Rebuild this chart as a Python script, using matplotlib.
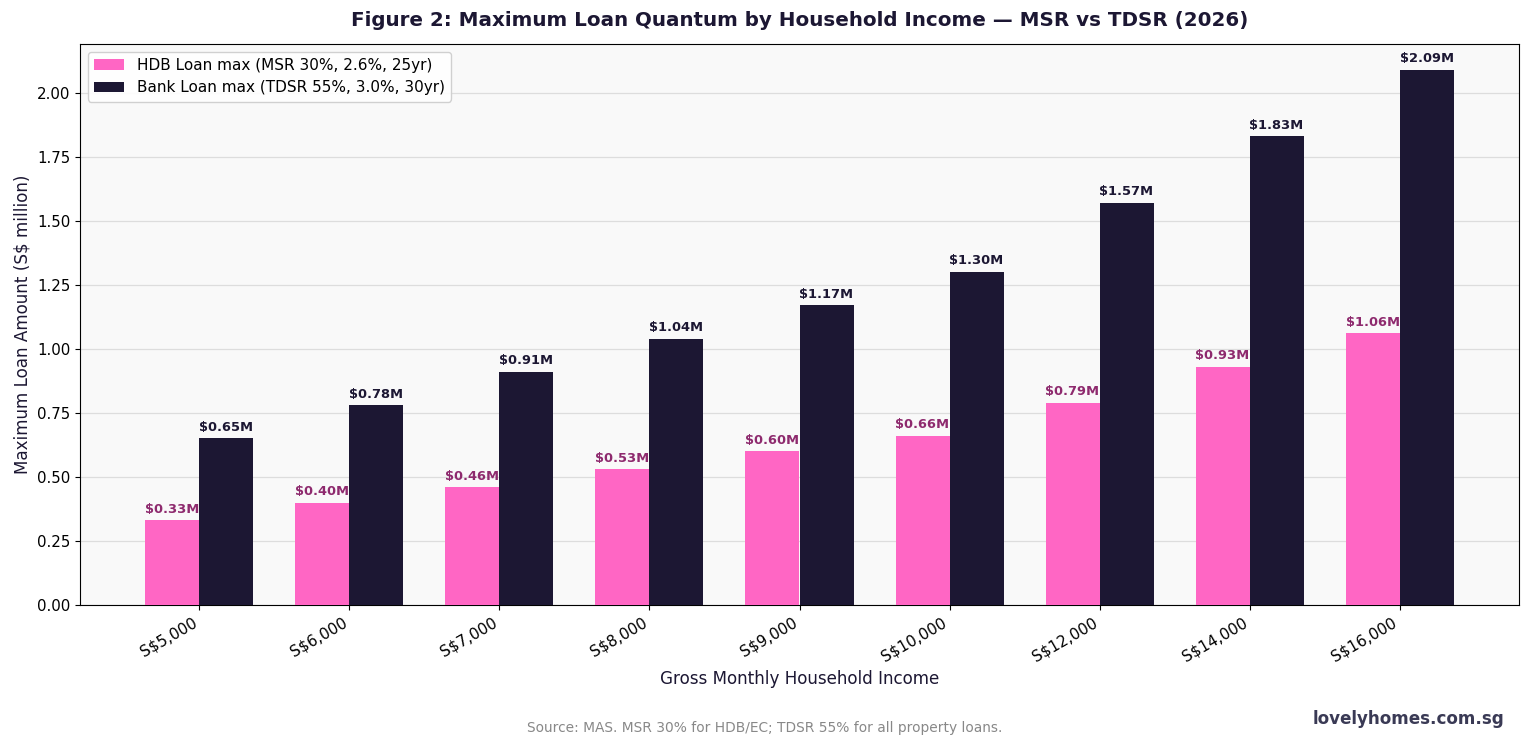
import matplotlib
matplotlib.use("Agg")
import matplotlib.pyplot as plt
import numpy as np

plt.rcParams["font.family"] = ["DejaVu Sans"]

incomes = ["S$5,000", "S$6,000", "S$7,000", "S$8,000", "S$9,000",
           "S$10,000", "S$12,000", "S$14,000", "S$16,000"]
hdb_loan = [0.33, 0.40, 0.46, 0.53, 0.60, 0.66, 0.79, 0.93, 1.06]
bank_loan = [0.65, 0.78, 0.91, 1.04, 1.17, 1.30, 1.57, 1.83, 2.09]

PINK = "#FF66C4"
DARK = "#1C1733"
PINK_TXT = "#8E2A6E"

fig = plt.figure(figsize=(15.3, 7.47), dpi=100)
ax = fig.add_axes([80/1530, 1 - 605/747, (1519-80)/1530, (605-44)/747])
ax.set_facecolor("#F9F9F9")

x = np.arange(len(incomes))
w = 0.36
b1 = ax.bar(x - w/2, hdb_loan, w, color=PINK, label="HDB Loan max (MSR 30%, 2.6%, 25yr)", zorder=3)
b2 = ax.bar(x + w/2, bank_loan, w, color=DARK, label="Bank Loan max (TDSR 55%, 3.0%, 30yr)", zorder=3)

for rect, v in zip(b1, hdb_loan):
    ax.annotate(f"${v:.2f}M", (rect.get_x() + rect.get_width()/2, v),
                xytext=(0, 3.3), textcoords="offset points", ha="center", va="bottom",
                fontsize=9.35, fontweight="bold", color=PINK_TXT, zorder=4)
for rect, v in zip(b2, bank_loan):
    ax.annotate(f"${v:.2f}M", (rect.get_x() + rect.get_width()/2, v),
                xytext=(0, 3.3), textcoords="offset points", ha="center", va="bottom",
                fontsize=9.35, fontweight="bold", color=DARK, zorder=4)

ax.set_xticks(x)
ax.set_xticklabels(incomes, rotation=30, ha="right", fontsize=11)
ax.tick_params(axis="y", labelsize=10.8)
ax.set_ylim(0, 2.19)
ax.yaxis.grid(True, color="#DDDDDD", linewidth=0.9, zorder=0)
ax.set_axisbelow(True)
ax.set_xlabel("Gross Monthly Household Income", fontsize=12.1, color=DARK)
ax.set_ylabel("Maximum Loan Amount (S$ million)", fontsize=12.1, color=DARK)
ax.legend(loc="upper left", fontsize=11, framealpha=0.9)

ax.set_title("Figure 2: Maximum Loan Quantum by Household Income \u2014 MSR vs TDSR (2026)",
             fontsize=14.3, fontweight="bold", color=DARK, pad=13)
fig.text(0.5, 1 - 728/747,
         "Source: MAS. MSR 30% for HDB/EC; TDSR 55% for all property loans.",
         ha="center", va="center", fontsize=9.9, color="#888888")
fig.text(1504/1530, 1 - 719/747, "lovelyhomes.com.sg", ha="right", va="center",
         fontsize=12.1, fontweight="bold", color="#3A3A55")

fig.savefig("out.png", dpi=100)
